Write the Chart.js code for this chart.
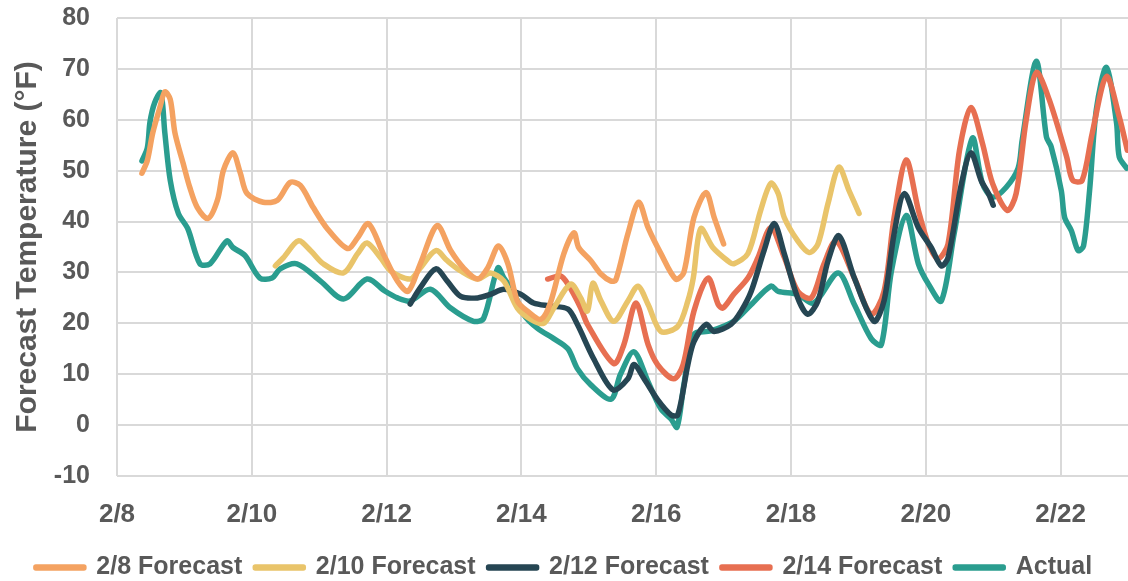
<!DOCTYPE html>
<html>
<head>
<meta charset="utf-8">
<script src="https://cdn.jsdelivr.net/npm/chart.js@4/dist/chart.umd.min.js"></script>
<style>
  html, body { margin: 0; padding: 0; background: #fff; }
  #wrap { width: 1128px; height: 581px; }
</style>
</head>
<body>
<div id="wrap"><canvas id="tempChart"></canvas></div>
<script>
'use strict';

// x values are days after 2/8, y values are degrees F
const startDay = 8;
const yTicks = [-10, 0, 10, 20, 30, 40, 50, 60, 70, 80];

const f08Days = [0.37, 0.45, 0.53, 0.64, 0.71, 0.79, 0.86, 0.98, 1.08, 1.19, 1.35, 1.49, 1.58, 1.72, 1.83, 1.93, 2.17, 2.38, 2.57, 2.72, 2.91, 3.12, 3.42, 3.57, 3.73, 3.95, 4.16, 4.32, 4.50, 4.75, 4.95, 5.14, 5.35, 5.50, 5.66, 5.80, 5.94, 6.09, 6.29, 6.43, 6.63, 6.78, 6.85, 7.03, 7.18, 7.33, 7.40, 7.58, 7.74, 7.88, 8.07, 8.29, 8.41, 8.56, 8.74, 8.86, 9.00];
const f08Temps = [49.5, 52, 57.4, 62.6, 65.5, 64, 57.4, 51.5, 46.7, 42.8, 40.6, 44.2, 50.1, 53.5, 49.5, 45.5, 43.8, 44.2, 47.7, 47.1, 42.8, 38.6, 34.7, 36.8, 39.6, 33.7, 28.3, 26.3, 31.7, 39.2, 34.3, 30.9, 28.7, 30.9, 35.2, 31.7, 24.4, 22.4, 20.8, 24, 33.7, 37.8, 34.9, 32.3, 29.7, 28.3, 28.5, 37.6, 43.8, 38.8, 33.7, 28.7, 30, 40.8, 45.7, 40.8, 35.6];

const f10Days = [2.35, 2.47, 2.69, 2.87, 3.06, 3.36, 3.57, 3.71, 3.91, 4.06, 4.35, 4.50, 4.73, 4.90, 5.10, 5.35, 5.54, 5.74, 5.94, 6.14, 6.33, 6.48, 6.73, 6.88, 6.98, 7.06, 7.18, 7.37, 7.58, 7.73, 7.88, 8.07, 8.32, 8.47, 8.55, 8.66, 8.84, 9.06, 9.15, 9.36, 9.55, 9.70, 9.81, 9.90, 10.10, 10.27, 10.40, 10.55, 10.71, 10.86, 11.01];
const f10Temps = [31.3, 32.9, 36.2, 34.3, 31.7, 29.9, 33.7, 35.8, 32.9, 30.3, 28.7, 30.9, 34.3, 32.3, 30.3, 28.7, 29.9, 28.3, 23, 20.8, 20, 23, 27.7, 25, 22.4, 27.9, 24.4, 20.4, 24.4, 27.3, 23.7, 18.4, 19.4, 24.4, 28.9, 38.6, 34.9, 32.3, 31.7, 33.7, 42.2, 47.5, 45.5, 40.8, 36.2, 33.9, 35.6, 43.6, 50.7, 46.1, 41.6];

const f12Days = [4.35, 4.50, 4.73, 4.90, 5.10, 5.35, 5.54, 5.74, 5.99, 6.18, 6.43, 6.69, 6.83, 7.07, 7.36, 7.58, 7.67, 7.82, 8.02, 8.22, 8.32, 8.47, 8.56, 8.74, 8.86, 9.11, 9.26, 9.41, 9.60, 9.75, 9.90, 10.10, 10.25, 10.40, 10.55, 10.71, 10.94, 11.23, 11.38, 11.53, 11.68, 11.89, 12.08, 12.23, 12.33, 12.53, 12.67, 12.82, 12.93, 13.00];
const f12Temps = [23.8, 27, 30.7, 28.3, 25.3, 25, 25.7, 26.7, 25.7, 24, 23.4, 22.8, 19.8, 13.1, 6.9, 9.1, 11.9, 9.1, 5, 2, 2, 11.9, 16.4, 19.8, 18.4, 19.8, 22.4, 26.3, 34.3, 39.6, 33.7, 25, 21.8, 24.4, 32.3, 37.2, 28.9, 20.4, 24.4, 37.6, 45.5, 38.8, 34.9, 31.3, 32.9, 47.5, 53.5, 48.1, 45.5, 43.2];

const f14Days = [6.39, 6.58, 6.69, 6.88, 6.98, 7.37, 7.52, 7.70, 7.88, 8.02, 8.26, 8.40, 8.56, 8.77, 8.92, 8.99, 9.15, 9.36, 9.51, 9.70, 9.90, 10.10, 10.30, 10.49, 10.67, 10.94, 11.19, 11.38, 11.53, 11.71, 11.89, 12.04, 12.18, 12.33, 12.50, 12.67, 12.84, 12.99, 13.21, 13.34, 13.49, 13.64, 13.83, 14.09, 14.18, 14.32, 14.47, 14.68, 14.87, 14.99];
const f14Temps = [28.7, 29.3, 27.7, 23, 19.8, 12.1, 15.8, 24, 15.8, 11.9, 9.1, 11.9, 22.4, 28.9, 23.7, 23, 25.7, 28.9, 32.9, 38.8, 33, 26.3, 25, 31.7, 36.2, 28.9, 21.8, 26.3, 40.8, 52.1, 42.2, 35.6, 32.7, 35.6, 54, 62.4, 55.4, 47.5, 42.2, 45.5, 60, 69.3, 64, 52.7, 48.1, 48.1, 57.4, 68.5, 60.6, 54];

const actDays = [0.37, 0.45, 0.49, 0.56, 0.65, 0.71, 0.79, 0.91, 1.05, 1.23, 1.38, 1.63, 1.72, 1.90, 2.12, 2.30, 2.42, 2.67, 3.02, 3.36, 3.71, 3.98, 4.16, 4.35, 4.65, 4.95, 5.29, 5.44, 5.65, 5.74, 5.88, 6.03, 6.24, 6.48, 6.69, 6.83, 7.03, 7.33, 7.47, 7.67, 7.88, 8.07, 8.22, 8.31, 8.41, 8.56, 8.81, 9.15, 9.41, 9.70, 9.81, 10.10, 10.34, 10.70, 10.94, 11.19, 11.34, 11.49, 11.71, 11.89, 12.04, 12.23, 12.42, 12.69, 12.84, 12.99, 13.19, 13.37, 13.43, 13.64, 13.79, 13.86, 14.01, 14.06, 14.16, 14.26, 14.34, 14.43, 14.53, 14.68, 14.83, 14.87, 14.98];
const actTemps = [51.9, 54.5, 59.6, 63.4, 65.3, 57.4, 48.1, 41.6, 38.6, 31.7, 31.7, 36.2, 34.9, 33.3, 28.9, 28.9, 30.7, 31.7, 28.3, 24.8, 28.7, 26.3, 25, 24.4, 26.7, 23, 20.4, 21, 30.9, 28.9, 26.3, 21.8, 19, 17, 15, 11.1, 7.9, 5.1, 10, 14.4, 8.5, 3.2, 1.2, -0.4, 7.9, 17.8, 18.5, 20.4, 23.7, 27.3, 26.3, 25.7, 24, 29.9, 23.7, 17, 15.8, 30.3, 41.2, 31.7, 27.7, 24.4, 37.6, 56.4, 47.5, 44.8, 46.7, 50.5, 56, 71.5, 56.6, 54.7, 46.1, 40.8, 38.2, 34.3, 35.2, 46.1, 62, 70.3, 59.4, 52.7, 50.5];

const seriesNames = ['2/8 Forecast', '2/10 Forecast', '2/12 Forecast', '2/14 Forecast', 'Actual'];
const seriesColors = ['#f4a261', '#e9c46a', '#264653', '#e76f51', '#2a9d8f'];

const textColor = '#595959';
const gridColor = '#d9d9d9';
const fontFamily = '"Liberation Sans", Arial, sans-serif';

function toPoints(days, temps) {
    return days.map((d, i) => ({ x: d, y: temps[i] }));
}

const allDays = [f08Days, f10Days, f12Days, f14Days, actDays];
const allTemps = [f08Temps, f10Temps, f12Temps, f14Temps, actTemps];

const datasets = seriesNames.map((name, i) => ({
    label: name,
    data: toPoints(allDays[i], allTemps[i]),
    borderColor: seriesColors[i],
    backgroundColor: seriesColors[i],
    borderWidth: 5.5,
    borderCapStyle: 'round',
    borderJoinStyle: 'round',
    pointRadius: 0,
    tension: 0.3,
    fill: false
}));

const ctx = document.getElementById('tempChart');
const tempChart = new Chart(ctx, {
    type: 'line',
    data: { datasets: datasets },
    options: {
        responsive: true,
        maintainAspectRatio: false,
        animation: false,
        // negative bottom pulls the legend row down towards the edge
        layout: { padding: { top: 0, right: 0, left: 0, bottom: -9 } },
        plugins: {
            tooltip: { enabled: false },
            legend: {
                position: 'bottom',
                labels: {
                    boxWidth: 48,
                    boxHeight: 1,
                    padding: 13,
                    color: textColor,
                    font: { family: fontFamily, size: 25, weight: 'bold' }
                }
            }
        },
        scales: {
            x: {
                type: 'linear',
                min: 0,
                max: 15,
                afterBuildTicks: scale => {
                    scale.ticks = scale.ticks.filter(t => t.value % 2 === 0);
                },
                afterFit: scale => { scale.height = 66; },
                ticks: {
                    stepSize: 2,
                    padding: 23,
                    maxRotation: 0,
                    color: textColor,
                    font: { family: fontFamily, size: 26, weight: 'bold' },
                    callback: v => '2/' + (startDay + v)
                },
                grid: { color: gridColor, lineWidth: 2, drawTicks: false },
                border: { display: false }
            },
            y: {
                min: yTicks[0],
                max: yTicks[yTicks.length - 1],
                afterBuildTicks: scale => {
                    scale.ticks = yTicks.map(v => ({ value: v }));
                },
                afterFit: scale => {
                    scale.width = 117;
                    scale.paddingTop = 18;
                    scale.paddingBottom = 0;
                },
                ticks: {
                    padding: 27,
                    color: textColor,
                    font: { family: fontFamily, size: 25, weight: 'bold' }
                },
                grid: { color: gridColor, lineWidth: 2, drawTicks: false },
                border: { display: false },
                title: {
                    display: true,
                    text: 'Forecast Temperature (°F)',
                    color: textColor,
                    padding: { top: 10, bottom: 0 },
                    font: { family: fontFamily, size: 30, weight: 'bold' }
                }
            }
        }
    }
});
</script>
</body>
</html>
